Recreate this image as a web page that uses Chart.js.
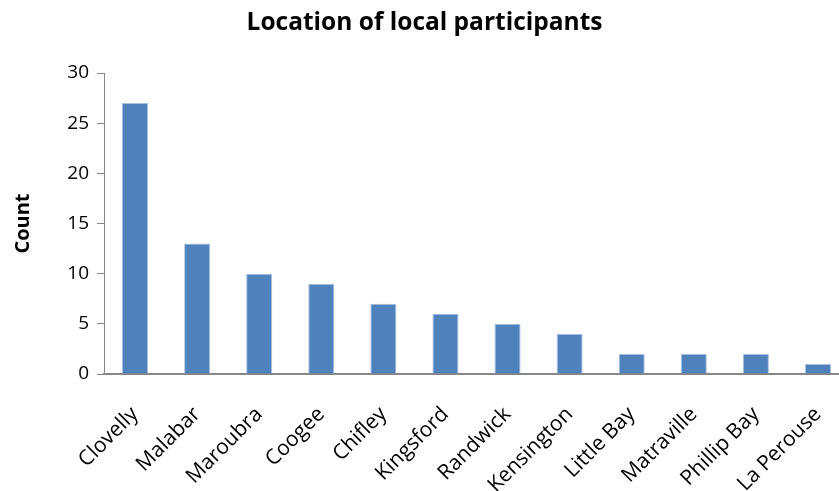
<!DOCTYPE html>
<html>
<head>
<meta charset="utf-8">
<script src="https://cdn.jsdelivr.net/npm/chart.js@4/dist/chart.umd.min.js"></script>
<style>
  html, body { margin: 0; padding: 0; background: #fff; overflow: hidden; }
  #wrap { width: 852px; height: 491px; }
</style>
</head>
<body>
<div id="wrap"><canvas id="myChart" width="852" height="491"></canvas></div>
<script>
// suburbs of local participants, highest count first
const suburbs = ['Clovelly', 'Malabar', 'Maroubra', 'Coogee', 'Chifley', 'Kingsford',
    'Randwick', 'Kensington', 'Little Bay', 'Matraville', 'Phillip Bay', 'La Perouse'];
const counts = [27, 13, 10, 9, 7, 6, 5, 4, 2, 2, 2, 1];
const yTicks = [0, 5, 10, 15, 20, 25, 30];

const FONT = "'Open Sans', sans-serif";
const AXIS_GREY = '#868686';

function plotLocations() {
    var ctx = document.getElementById('myChart');
    var chart = new Chart(ctx, {
        type: 'bar',
        data: {
            labels: suburbs,
            datasets: [
                {
                    label: 'Count',
                    data: counts,
                    backgroundColor: '#4F81BD',
                    borderColor: '#A9C1E0',
                    borderWidth: 1,
                    barPercentage: 0.42,
                    categoryPercentage: 1.0
                }
            ]
        },
        options: {
            responsive: false,
            animation: false,
            layout: { padding: { left: 0, right: 3, top: 0, bottom: 0 } },
            scales: {
                y: {
                    min: 0,
                    max: 30,
                    afterBuildTicks: (scale) => { scale.ticks = yTicks.map(v => ({ value: v })); },
                    afterFit: (scale) => { scale.width = 104; },
                    title: {
                        display: true,
                        text: 'Count',
                        color: '#000',
                        font: { family: FONT, size: 20, weight: 'bold' },
                        padding: { top: 11, bottom: 0 }
                    },
                    ticks: {
                        color: '#000',
                        font: { family: FONT, size: 19 },
                        padding: 8
                    },
                    grid: {
                        drawOnChartArea: false,
                        drawTicks: true,
                        tickLength: 7,
                        color: AXIS_GREY,
                        lineWidth: 1
                    },
                    border: { display: true, color: AXIS_GREY, width: 1 }
                },
                x: {
                    // rotated labels should not shrink the plot area
                    afterFit: (scale) => {
                        scale.height = 117;
                        scale.paddingLeft = 0;
                        scale.paddingRight = 0;
                    },
                    ticks: {
                        color: '#000',
                        font: { family: FONT, size: 21 },
                        minRotation: 45,
                        maxRotation: 45,
                        autoSkip: false,
                        padding: 28
                    },
                    grid: { display: false, drawTicks: false },
                    border: { display: true, color: AXIS_GREY, width: 2 }
                }
            },
            plugins: {
                legend: { display: false },
                tooltip: { enabled: false },
                title: {
                    display: true,
                    text: 'Location of local participants',
                    color: '#000',
                    font: { family: FONT, size: 24.5, weight: 'bold' },
                    padding: { top: 8, bottom: 35.6 }
                }
            }
        }
    });
}
plotLocations();
</script>
</body>
</html>
